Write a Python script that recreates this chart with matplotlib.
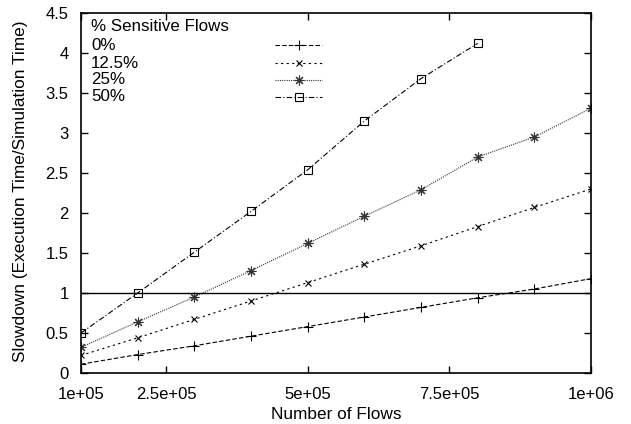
import matplotlib
matplotlib.use('Agg')
import matplotlib.pyplot as plt

plt.rcParams['font.family'] = ['Liberation Sans', 'DejaVu Sans']

# number of flows on the x axis
flows = [1e5, 2e5, 3e5, 4e5, 5e5, 6e5, 7e5, 8e5, 9e5, 1e6]

# slowdown per percentage of sensitive flows
slow_0 = [0.11, 0.23, 0.34, 0.46, 0.58, 0.70, 0.82, 0.94, 1.05, 1.18]
slow_12 = [0.22, 0.44, 0.67, 0.90, 1.13, 1.36, 1.59, 1.83, 2.07, 2.30]
slow_25 = [0.32, 0.64, 0.95, 1.28, 1.62, 1.96, 2.29, 2.70, 2.95, 3.31]
slow_50 = [0.50, 1.00, 1.51, 2.02, 2.54, 3.15, 3.68, 4.12]

labels = ['0%', '12.5%', '25%', '50%']
xticks = [1e5, 2.5e5, 5e5, 7.5e5, 1e6]
xticklabels = ['1e+05', '2.5e+05', '5e+05', '7.5e+05', '1e+06']
yticks = [0, 0.5, 1, 1.5, 2, 2.5, 3, 3.5, 4, 4.5]
yticklabels = ['0', '0.5', '1', '1.5', '2', '2.5', '3', '3.5', '4', '4.5']

fig = plt.figure(figsize=(6.31, 4.24), dpi=100)
ax = fig.add_axes([0.1284, 0.1203, 0.8082, 0.8490])

styles = [
    dict(ls=(0, (4, 2)), marker='+', ms=7, color='black'),
    dict(ls=(0, (2, 3)), marker='x', ms=5, color='black'),
    dict(ls=(0, (1, 1)), marker=(8, 2, 0), ms=7, color='#333333'),
    dict(ls=(0, (5, 2, 1, 2)), marker='s', ms=6, color='black', mfc='none'),
]
series = [slow_0, slow_12, slow_25, slow_50]

for ys, st in zip(series, styles):
    ax.plot(flows[:len(ys)], ys, lw=0.8, mew=0.8, **st)

ax.axhline(1, color='black', lw=1)

# gnuplot style key: label left, sample right
ax.text(0.02, 0.962, '% Sensitive Flows', transform=ax.transAxes,
        fontsize=12.2, va='center', ha='left')
key_y = [0.911, 0.861, 0.814, 0.767]
for lab, ky, st in zip(labels, key_y, styles):
    ax.text(0.02, ky, lab, transform=ax.transAxes, fontsize=12.2,
            va='center', ha='left')
    ax.plot([0.380, 0.427, 0.472], [ky, ky, ky], transform=ax.transAxes,
            lw=0.8, mew=0.8, markevery=[1], **st)

ax.set_xlim(1e5, 1e6)
ax.set_ylim(0, 4.5)
ax.set_xticks(xticks)
ax.set_xticklabels(xticklabels)
ax.set_yticks(yticks)
ax.set_yticklabels(yticklabels)
ax.tick_params(direction='in', length=5, width=1, top=True, right=True,
               labelsize=12)
ax.tick_params(axis='y', pad=9)
ax.tick_params(axis='x', pad=10)
for s in ax.spines.values():
    s.set_linewidth(1.2)

ax.set_xlabel('Number of Flows', fontsize=12.4)
ax.set_ylabel('Slowdown (Execution Time/Simulation Time)', fontsize=12.4)
ax.xaxis.set_label_coords(0.5, -0.094)
ax.yaxis.set_label_coords(-0.103, 0.504)

fig.savefig('out.png', dpi=100)
